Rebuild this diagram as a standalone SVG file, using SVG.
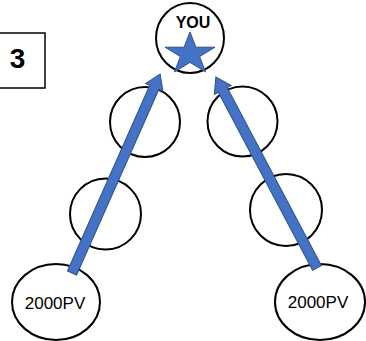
<svg xmlns="http://www.w3.org/2000/svg" width="366" height="341" viewBox="0 0 366 341">
<defs>
<style>
.node{fill:#fff;stroke:#000;stroke-width:2}
.lbl{font-family:"Liberation Sans",Arial,sans-serif;fill:#000}
.arr{fill:#4472C4;stroke:#2F528F;stroke-width:1}
</style>
</defs>
<rect width="366" height="341" fill="#fff"/>
<g id="level">
<rect x="-2" y="33" width="47" height="55" fill="#fff" stroke="#000" stroke-width="1.5"/>
<text class="lbl" x="17.5" y="68" font-size="28" font-weight="bold" text-anchor="middle">3</text>
</g>
<g id="you">
<ellipse class="node" cx="190" cy="38" rx="34" ry="35"/>
<text class="lbl" x="193" y="28" font-size="16" font-weight="bold" text-anchor="middle">YOU</text>
<polygon class="arr" points="190,31.9 195.9,47.2 215,47.2 199.6,56.6 205.5,71.9 190,62.4 174.5,71.9 180.4,56.6 165,47.2 184.1,47.2"/>
</g>
<g id="l1"><circle class="node" cx="145" cy="122" r="35"/></g>
<g id="l2"><circle class="node" cx="105.5" cy="214" r="35.5"/></g>
<g id="r1"><circle class="node" cx="242.5" cy="121.5" r="35"/></g>
<g id="r2"><circle class="node" cx="286" cy="210" r="36"/></g>
<g id="pvL">
<ellipse class="node" cx="56" cy="302" rx="44" ry="38"/>
<text class="lbl" x="55" y="309" font-size="17" text-anchor="middle">2000PV</text>
</g>
<g id="pvR">
<ellipse class="node" cx="320" cy="302" rx="45" ry="38"/>
<text class="lbl" x="318" y="308" font-size="17" text-anchor="middle">2000PV</text>
</g>
<g id="connectors">
<path class="arr" transform="translate(72,273) rotate(-66.1)" d="M0,-5 H203 V-9.5 L217.6,0 L203,9.5 V5 H0 Z"/>
<path class="arr" transform="translate(317,268) rotate(-117.9)" d="M0,-5 H201.5 V-9.5 L216.1,0 L201.5,9.5 V5 H0 Z"/>
</g>
</svg>
